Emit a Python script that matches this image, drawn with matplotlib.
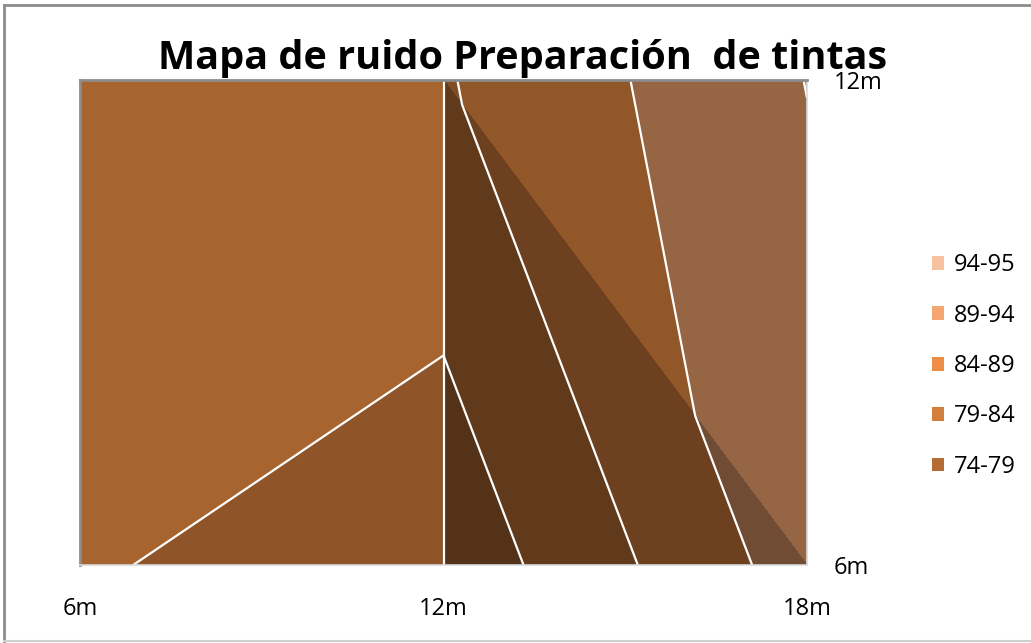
import matplotlib

matplotlib.use("Agg")
import matplotlib.pyplot as plt
import matplotlib.tri as mtri
import numpy as np
from matplotlib.colors import to_rgb
from matplotlib.lines import Line2D
from matplotlib.patches import Patch

plt.rcParams["font.family"] = ["Open Sans", "DejaVu Sans"]

# measurement grid (m) and noise level (dB) at each node
xs = [6, 12, 18]
ys = [6, 12]
db_y6 = [79.6, 75.5, 91.4]
db_y12 = [81.0, 83.6, 94.1]

levels = [74, 79, 84, 89, 94, 95]
band_labels = ["74-79", "79-84", "84-89", "89-94", "94-95"]
band_colors = ["#B56C34", "#D37E3A", "#ED8E44", "#F5A570", "#F8C2A0"]

TITLE = "Mapa de ruido Preparación  de tintas"
W, H = 1031, 643

# nodes: (6,6) (12,6) (18,6) (6,12) (12,12) (18,12)
px = np.array(xs * len(ys), float)
py = np.repeat(ys, len(xs)).astype(float)
pz = np.array(db_y6 + db_y12)

# surface facets and how much light each one catches
facets = [([0, 1, 4], 0.79), ([0, 4, 3], 0.792), ([4, 5, 2], 0.61), ([4, 2, 1], 0.46)]

fig = plt.figure(figsize=(W / 100, H / 100), dpi=100)
ax = fig.add_axes([80 / W, 1 - 565 / H, 727 / W, 485 / H])

for tri_idx, shade in facets:
    tri = mtri.Triangulation(px, py, [tri_idx])
    cols = [tuple(np.array(to_rgb(c)) * shade) for c in band_colors]
    ax.tricontourf(tri, pz, levels=levels, colors=cols, antialiased=False)

full = mtri.Triangulation(px, py, [t for t, _ in facets])
ax.tricontour(full, pz, levels=levels[1:-1], colors="white", linewidths=1.6)
ax.axvline(xs[1], color="white", lw=1.6)

ax.set_xlim(xs[0], xs[-1])
ax.set_ylim(ys[0], ys[-1])
for side, col, lw in [("top", "#8C8C8C", 2.0), ("left", "#8C8C8C", 2.0),
                      ("bottom", "#D9D9D9", 1.2), ("right", "#D9D9D9", 1.2)]:
    ax.spines[side].set_color(col)
    ax.spines[side].set_linewidth(lw)

ax.set_xticks(xs, [f"{v}m" for v in xs])
ax.yaxis.tick_right()
ax.set_yticks(ys, [f"{v}m" for v in ys])
ax.tick_params(axis="x", length=0, pad=23, labelsize=17)
ax.tick_params(axis="y", length=0, pad=19, labelsize=17)

fig.text(523 / W, 1 - 69 / H, TITLE, ha="center", va="baseline",
         fontsize=28.5, fontweight="bold")

handles = [Patch(facecolor=c, edgecolor="none", label=l)
           for c, l in zip(band_colors[::-1], band_labels[::-1])]
fig.legend(handles=handles, loc="center left", bbox_to_anchor=(932 / W, 1 - 366 / H),
           frameon=False, fontsize=17, handlelength=0.52, handleheight=0.52,
           handletextpad=0.4, labelspacing=1.12, borderpad=0, borderaxespad=0)

# chart border
fig.add_artist(Line2D([4 / W, 1], [1 - 5 / H, 1 - 5 / H], transform=fig.transFigure,
                      color="#8C8C8C", lw=2))
fig.add_artist(Line2D([4 / W, 4 / W], [1 - 5 / H, 1 - 641 / H], transform=fig.transFigure,
                      color="#8C8C8C", lw=2))
fig.add_artist(Line2D([4 / W, 1], [1 - 641 / H, 1 - 641 / H], transform=fig.transFigure,
                      color="#D0D0D0", lw=1.5))

fig.savefig("out.png", dpi=100)
